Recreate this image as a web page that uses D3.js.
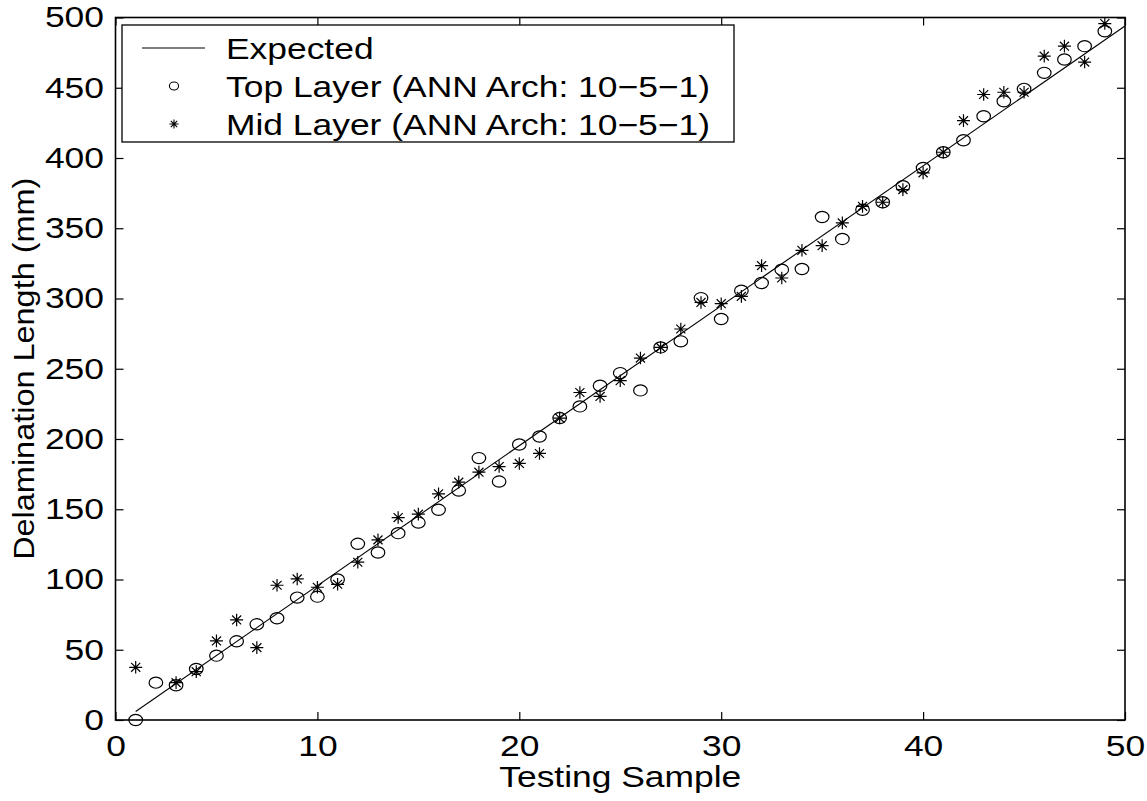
<!DOCTYPE html>
<html>
<head>
<meta charset="utf-8">
<script src="https://cdn.jsdelivr.net/npm/d3@7"></script>
<style>
  html, body { margin: 0; padding: 0; background: #fff; }
  svg { display: block; }
  text { font-family: "Liberation Sans", Arial, Helvetica, sans-serif; fill: #000; }
</style>
</head>
<body>
<svg id="chart" width="1147" height="801"></svg>
<script>
// ---- data ----
const samples = [1,2,3,4,5,6,7,8,9,10,11,12,13,14,15,16,17,18,19,20,21,22,23,24,25,
                 26,27,28,29,30,31,32,33,34,35,36,37,38,39,40,41,42,43,44,45,46,47,48,49];
const topLayer = [0, 26.6, 24.7, 36.3, 45.8, 56, 68.1, 72.4, 87.1, 87.8,
                  100, 125.4, 119.2, 133, 140.5, 149.6, 163.3, 186.4, 169.7, 196.1,
                  201.8, 214.9, 223.2, 237.9, 246.9, 234.6, 265.2, 269.5, 300.3, 285.4,
                  305.6, 311, 320.5, 321, 358, 342.4, 363.2, 368.5, 379.9, 392.9,
                  404.1, 412.6, 429.7, 440.4, 449.2, 460.6, 470.1, 479.6, 490.2];
const midLayer = [37.5, null, 26.6, 34.4, 56.3, 71.2, 51.5, 95.9, 100.4, 94.5,
                  96.6, 112.3, 128.2, 144.1, 146.5, 161, 169.3, 176.4, 180.4, 182.6,
                  189.7, 214.9, 233.1, 230.3, 241.5, 257.6, 265.2, 278.3, 297.2, 296.3,
                  301.5, 323.4, 314.6, 334.3, 337.6, 353.8, 365.6, 368.5, 377.5, 389.4,
                  404.1, 426.6, 445.2, 446.8, 446.8, 472.5, 479.6, 468.3, 495.7];
const expectedX = [1, 50];
const expectedY = [6, 494];
const xTicks = [0, 10, 20, 30, 40, 50];
const yTicks = [0, 50, 100, 150, 200, 250, 300, 350, 400, 450, 500];
const legendLabels = ["Expected", "Top Layer (ANN Arch: 10\u22125\u22121)", "Mid Layer (ANN Arch: 10\u22125\u22121)"];
const xLabel = "Testing Sample";
const yLabel = "Delamination Length (mm)";

// ---- layout ----
const L = 115.5, R = 1125, T = 17.5, B = 720;
const FS = 29.5, SX = 1.2;
const svg = d3.select("#chart");

const x = d3.scaleLinear().domain([0, 50]).range([L, R]);
const y = d3.scaleLinear().domain([0, 500]).range([B, T]);

// axes (ticks pointing inward)
const gx = svg.append("g").attr("transform", `translate(0,${B})`)
  .call(d3.axisBottom(x).tickValues(xTicks).tickSize(-8).tickSizeOuter(0).tickPadding(15.5));
gx.selectAll("text").attr("transform", `scale(${SX},1)`).style("font-size", FS + "px");
const gy = svg.append("g").attr("transform", `translate(${L},0)`)
  .call(d3.axisLeft(y).tickValues(yTicks).tickSize(-8).tickSizeOuter(0).tickPadding(9.6));
gy.selectAll("text").attr("transform", `scale(${SX},1)`).attr("x", -9.6).style("font-size", FS + "px");
svg.append("g").attr("transform", `translate(0,${T})`)
  .call(d3.axisTop(x).tickValues(xTicks).tickSize(-8).tickSizeOuter(0).tickFormat(""));
svg.append("g").attr("transform", `translate(${R},0)`)
  .call(d3.axisRight(y).tickValues(yTicks).tickSize(-8).tickSizeOuter(0).tickFormat(""));
svg.selectAll(".domain").remove();
svg.selectAll(".tick line").attr("stroke", "#000").attr("stroke-width", 1.2);

// frame
svg.append("rect").attr("x", L).attr("y", T).attr("width", R - L).attr("height", B - T)
  .attr("fill", "none").attr("stroke", "#000").attr("stroke-width", 1.6);

// expected line
const line = d3.line().x(d => x(d[0])).y(d => y(d[1]));
svg.append("path").datum(expectedX.map((v, i) => [v, expectedY[i]]))
  .attr("d", line).attr("fill", "none").attr("stroke", "#000").attr("stroke-width", 1.1);

// star path generator
function starPath(cx, cy, w, h) {
  const dx = w * 0.7, dy = h * 0.7;
  return `M${cx},${cy - h}L${cx},${cy + h}M${cx - w},${cy}L${cx + w},${cy}` +
         `M${cx - dx},${cy - dy}L${cx + dx},${cy + dy}M${cx - dx},${cy + dy}L${cx + dx},${cy - dy}`;
}

// top layer circles
svg.append("g").selectAll("ellipse")
  .data(samples.map((s, i) => [s, topLayer[i]]).filter(d => d[1] != null))
  .join("ellipse")
  .attr("cx", d => x(d[0])).attr("cy", d => y(d[1]))
  .attr("rx", 6.8).attr("ry", 5.6)
  .attr("fill", "none").attr("stroke", "#000").attr("stroke-width", 1.2);

// mid layer stars
svg.append("g").selectAll("path")
  .data(samples.map((s, i) => [s, midLayer[i]]).filter(d => d[1] != null))
  .join("path")
  .attr("d", d => starPath(x(d[0]), y(d[1]), 6.5, 6.3))
  .attr("fill", "none").attr("stroke", "#000").attr("stroke-width", 1.2);

// axis labels
svg.append("text")
  .attr("transform", `translate(${(L + R) / 2},787) scale(${SX},1)`)
  .attr("text-anchor", "middle").style("font-size", FS + "px").text(xLabel);
svg.append("text")
  .attr("transform", `translate(34,${(T + B) / 2}) rotate(-90) scale(1.1,1)`)
  .attr("text-anchor", "middle").style("font-size", FS + "px").text(yLabel);

// legend
const lg = svg.append("g");
lg.append("rect").attr("x", 122).attr("y", 25).attr("width", 612).attr("height", 117)
  .attr("fill", "#fff").attr("stroke", "#000").attr("stroke-width", 1.3);
const rowY = [48, 86, 124];
lg.append("line").attr("x1", 142).attr("x2", 205).attr("y1", rowY[0]).attr("y2", rowY[0])
  .attr("stroke", "#000").attr("stroke-width", 1.1);
lg.append("ellipse").attr("cx", 174).attr("cy", rowY[1]).attr("rx", 4.6).attr("ry", 4)
  .attr("fill", "none").attr("stroke", "#000").attr("stroke-width", 1.1);
lg.append("path").attr("d", starPath(174, rowY[2], 4.6, 4.6))
  .attr("fill", "none").attr("stroke", "#000").attr("stroke-width", 1.1);
legendLabels.forEach((t, i) => {
  lg.append("text")
    .attr("transform", `translate(226,${rowY[i] + 10.5}) scale(${SX},1)`)
    .style("font-size", FS + "px").text(t);
});
</script>
</body>
</html>
